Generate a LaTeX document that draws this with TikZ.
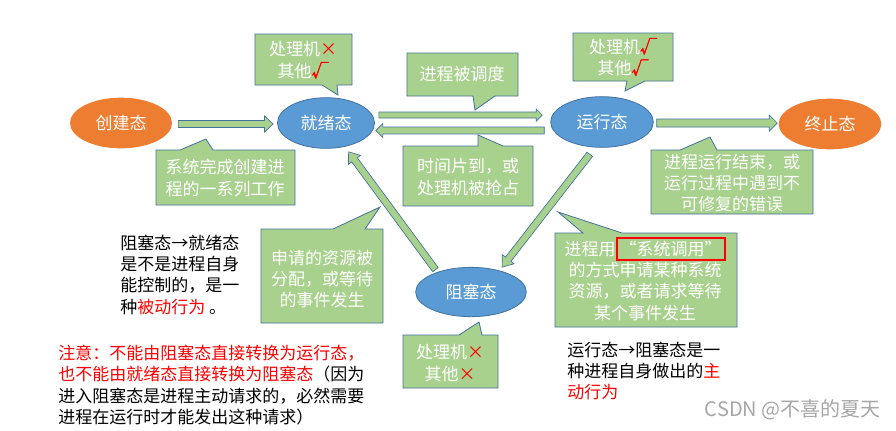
\documentclass[tikz,border=0pt]{standalone}
\usepackage{fontspec}
\setmainfont{Noto Sans CJK SC}
\newfontfamily\markfont[FakeBold=2]{Noto Sans CJK SC}
\usetikzlibrary{shapes.geometric,calc}
\definecolor{callfill}{HTML}{A9D18E}
\definecolor{callline}{HTML}{41719C}
\definecolor{ellblue}{HTML}{5B9BD5}
\definecolor{ellorange}{HTML}{ED7D31}
\definecolor{notered}{HTML}{FF0000}
\newcommand{\fsz}{\fontsize{12.75}{16}\selectfont}
\newcommand{\yes}{\textcolor{notered}{\markfont √}}
\newcommand{\no}{\textcolor{notered}{×}}
% 粗箭头: 起点, 终点, 半杆宽, 半头宽, 头长
\newcommand{\blockarrow}[5]{%
  \path (#1) coordinate (ba-s) (#2) coordinate (ba-e);
  \path ($(ba-e)!#5!(ba-s)$) coordinate (ba-n);
  \filldraw[blockarrowstyle] ($(ba-s)!#3!90:(ba-e)$) -- ($(ba-n)!#3!-90:(ba-s)$)
    -- ($(ba-n)!#4!-90:(ba-s)$) -- (ba-e) -- ($(ba-n)!#4!90:(ba-s)$)
    -- ($(ba-n)!#3!90:(ba-s)$) -- ($(ba-s)!#3!-90:(ba-e)$) -- cycle;}
\begin{document}
\begin{tikzpicture}[x=0.75pt, y=-0.75pt, line width=0.6pt,
  statenode/.style={ellipse, inner sep=0pt, minimum height=38pt, text=white, font=\fsz},
  stateblue/.style={statenode, fill=ellblue, draw=callline},
  stateorange/.style={statenode, fill=ellorange},
  callout/.style={fill=callfill, draw=callline},
  calltext/.style={align=center, text=white, font=\fsz, inner sep=0pt},
  note/.style={align=left, anchor=north west, font=\fsz, inner sep=0pt},
  blockarrowstyle/.style={fill=callfill, draw=callline, line width=0.5pt}]
  \useasboundingbox (0,0) rectangle (896,430);
  % 五种状态
  \node[stateorange, minimum width=76.5pt] (create) at (121,123) {创建态};
  \node[stateblue, minimum width=72.75pt] (ready) at (326,123) {就绪态};
  \node[stateblue, minimum width=77pt] (run) at (602,122) {运行态};
  \node[stateorange, minimum width=77pt] (stop) at (830,124) {终止态};
  \node[stateblue, minimum width=83pt, minimum height=37pt] (blocked) at (471,292) {阻塞态};
  % 状态转换
  \blockarrow{$(create.east)+(6,1)$}{$(ready.west)+(-4,1)$}{2.6pt}{6pt}{6.4pt}
  \blockarrow{$(ready.east)+(4,-8)$}{$(run.west)+(-8,-7)$}{2.25pt}{4.5pt}{4.5pt}
  \blockarrow{$(run.west)+(-6,8.5)$}{$(ready.east)+(1,7.5)$}{2.6pt}{5.25pt}{5.25pt}
  \blockarrow{$(run.east)+(3,1)$}{$(stop.west)+(-1,-1)$}{3pt}{6pt}{6pt}
  \blockarrow{$(blocked.148)+(-3,-2)$}{$(ready.-52)+(4,5)$}{2.6pt}{5.6pt}{7.5pt}
  \blockarrow{$(run.-110)+(-3,7)$}{$(blocked.39)+(4,-3)$}{2.6pt}{5.6pt}{7.5pt}
  % 说明框
  \draw[callout] (255,34) -- (352,34) -- (352,85) -- (337,85) -- (338,95) -- (322,85) -- (255,85) -- cycle;
  \node[calltext] (c-ready) at (303,60) {处理机\no\\其他\yes};
  \draw[callout] (156,150) -- (180,150) -- (206,139) -- (213,150) -- (295,150) -- (295,205) -- (156,205) -- cycle;
  \node[calltext] (c-create) at (225,178) {系统完成创建进\\程的一系列工作};
  \draw[callout] (407,53) -- (518,53) -- (518,96) -- (495,96) -- (475,110) -- (473,96) -- (407,96) -- cycle;
  \node[calltext] (c-dispatch) at (462,74) {进程被调度};
  \draw[callout] (573,33) -- (673,33) -- (673,81) -- (645,81) -- (625,91) -- (627,81) -- (573,81) -- cycle;
  \node[calltext] (c-run) at (623,57) {处理机\yes\\其他\yes};
  \draw[callout] (403,146) -- (478,146) -- (478,135) -- (503,146) -- (533,146) -- (533,206) -- (403,206) -- cycle;
  \node[calltext] (c-timeout) at (468,177) {时间片到，或\\处理机被抢占};
  \draw[callout] (651,150) -- (680,150) -- (710,137) -- (717,150) -- (813,150) -- (813,214) -- (651,214) -- cycle;
  \node[calltext] (c-exit) at (732,183) {进程运行结束，或\\运行过程中遇到不\\可修复的错误};
  \draw[callout] (261,229) -- (333,229) -- (380,207) -- (365,229) -- (383,229) -- (383,323) -- (261,323) -- cycle;
  \node[calltext] (c-wakeup) at (322,279) {申请的资源被\\分配，或等待\\的事件发生};
  \draw[callout] (403,335) -- (459,335) -- (479,322) -- (482,335) -- (498,335) -- (498,388) -- (403,388) -- cycle;
  \node[calltext] (c-blocked) at (450,363) {处理机\no\\其他\no};
  \draw[callout] (555,233) -- (583,233) -- (558,212) -- (622,233) -- (737,233) -- (737,327) -- (555,327) -- cycle;
  \node[calltext] (c-syscall) at (645,281) {进程用{\color{notered}\fboxsep=1.5pt\fboxrule=1.5pt\smash{\fbox{\color{white}“系统调用”}}}\\的方式申请某种系统\\资源，或者请求等待\\某个事件发生};
  % 文字说明
  \node[note] (n-passive) at (120,234.5) {阻塞态→就绪态\\是不是进程自身\\能控制的，是一\\种\textcolor{notered}{被动行为} 。};
  \node[note] (n-warn) at (58,344.5) {\textcolor{notered}{注意：不能由阻塞态直接转换为运行态，}\\\textcolor{notered}{也不能由就绪态直接转换为阻塞态}（因为\\进入阻塞态是进程主动请求的，必然需要\\进程在运行时才能发出这种请求）};
  \node[note] (n-active) at (567,341.5) {运行态→阻塞态是一\\种进程自身做出的\textcolor{notered}{主}\\\textcolor{notered}{动行为}};
  \node[font=\fontsize{15}{18}\selectfont, text=gray!70, anchor=east, inner sep=0pt] (mark) at (881,410) {CSDN @不喜的夏天};
\end{tikzpicture}
\end{document}
